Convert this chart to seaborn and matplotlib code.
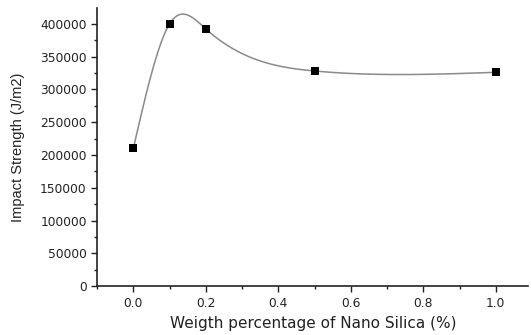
import numpy as np
import pandas as pd
import matplotlib
matplotlib.use("Agg")
import matplotlib.pyplot as plt
from matplotlib.ticker import MultipleLocator, FormatStrFormatter
import seaborn as sns

# values
silica_pct = [0.0, 0.1, 0.2, 0.5, 1.0]
impact_strength = [210500, 400000, 392000, 328000, 326000]


def natural_spline(x, y, n=400):
    # natural cubic spline through the points, used only for the connecting line
    x = np.asarray(x, float)
    y = np.asarray(y, float)
    k = len(x)
    h = np.diff(x)
    A = np.zeros((k, k))
    b = np.zeros(k)
    A[0, 0] = A[-1, -1] = 1
    for i in range(1, k - 1):
        A[i, i - 1] = h[i - 1]
        A[i, i] = 2 * (h[i - 1] + h[i])
        A[i, i + 1] = h[i]
        b[i] = 3 * ((y[i + 1] - y[i]) / h[i] - (y[i] - y[i - 1]) / h[i - 1])
    c = np.linalg.solve(A, b)
    xs = np.linspace(x[0], x[-1], n)
    idx = np.clip(np.searchsorted(x, xs) - 1, 0, k - 2)
    dx = xs - x[idx]
    hi = h[idx]
    bi = (y[idx + 1] - y[idx]) / hi - hi * (2 * c[idx] + c[idx + 1]) / 3
    di = (c[idx + 1] - c[idx]) / (3 * hi)
    ys = y[idx] + bi * dx + c[idx] * dx ** 2 + di * dx ** 3
    return xs, ys


sns.set_style("ticks")
plt.rcParams['font.family'] = ['DejaVu Sans']

df = pd.DataFrame({"pct": silica_pct, "strength": impact_strength})
xs, ys = natural_spline(silica_pct, impact_strength)
curve = pd.DataFrame({"pct": xs, "strength": ys})

fig = plt.figure(figsize=(5.31, 3.35), dpi=100)
ax = fig.add_axes([0.183, 0.146, 0.812, 0.83])

sns.lineplot(data=curve, x="pct", y="strength", color="#8a8a8a", linewidth=1.1, ax=ax)
sns.scatterplot(data=df, x="pct", y="strength", marker="s", color="black",
                s=30, edgecolor="black", linewidth=0, zorder=3, ax=ax)

ax.set_xlim(-0.1, 1.09)
ax.set_ylim(0, 424000)
ax.xaxis.set_major_locator(MultipleLocator(0.2))
ax.xaxis.set_minor_locator(MultipleLocator(0.1))
ax.yaxis.set_major_locator(MultipleLocator(50000))
ax.yaxis.set_minor_locator(MultipleLocator(25000))
ax.xaxis.set_major_formatter(FormatStrFormatter("%.1f"))
ax.tick_params(which="major", length=4.5, width=1.0, labelsize=8.8, pad=3,
               color="#222222", labelcolor="#222222")
ax.tick_params(which="minor", length=2.5, width=1.0, color="#222222")

ax.set_xlabel("Weigth percentage of Nano Silica (%)", fontsize=11, color="#222222", labelpad=5)
ax.set_ylabel("Impact Strength (J/m2)", fontsize=10.5, color="#222222",
              family=['Liberation Sans', 'DejaVu Sans'])
ax.yaxis.set_label_coords(-0.167, 0.5)
for s in ["left", "bottom"]:
    ax.spines[s].set_linewidth(1.2)
    ax.spines[s].set_color("#222222")
sns.despine(ax=ax)

fig.savefig("out.png", dpi=100)
